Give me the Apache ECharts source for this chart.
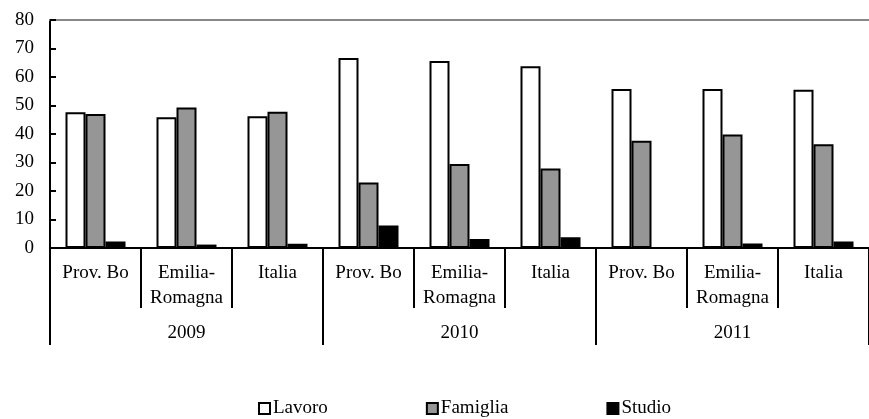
<!DOCTYPE html>
<html>
<head>
<meta charset="utf-8">
<script src="https://cdn.jsdelivr.net/npm/echarts@6/dist/echarts.min.js"></script>
<style>
  html, body { margin: 0; padding: 0; background: #fff; }
  #chart { width: 869px; height: 419px; }
</style>
</head>
<body>
<div id="chart"></div>
<script>
const places = ['Prov. Bo', 'Emilia-\nRomagna', 'Italia',
                'Prov. Bo', 'Emilia-\nRomagna', 'Italia',
                'Prov. Bo', 'Emilia-\nRomagna', 'Italia']
const years = ['2009', '2010', '2011']
const lavoro   = [47.6, 45.9, 46.2, 66.7, 65.6, 63.8, 55.8, 55.8, 55.5]
const famiglia = [47.0, 49.3, 47.8, 23.0, 29.5, 27.9, 37.6, 39.8, 36.4]
const studio   = [2.3, 1.2, 1.5, 7.9, 3.2, 3.8, 0, 1.6, 2.3]

const FONT = '"Liberation Serif", "DejaVu Serif", serif'
const chart = echarts.init(document.getElementById('chart'))

const barStyle = (fill) => ({
  itemStyle: { color: fill, borderColor: '#000', borderWidth: 2 },
  barWidth: 20,
  barGap: '0%',
  animation: false,
})

chart.setOption({
  backgroundColor: '#fff',
  textStyle: { fontFamily: FONT, color: '#000' },
  grid: { left: 50, top: 20, width: 823, height: 228, containLabel: false },
  legend: {
    bottom: -4,
    left: 253,
    itemWidth: 11,
    itemHeight: 11,
    itemGap: 98,
    icon: 'rect',
    textStyle: { fontFamily: FONT, fontSize: 19, color: '#000', padding: [0, 0, 0, -2] },
    data: ['Lavoro', 'Famiglia', 'Studio'],
  },
  xAxis: [
    {
      type: 'category', data: places, position: 'bottom',
      axisLine: { lineStyle: { color: '#000', width: 2 } },
      axisTick: { show: true, length: 60, interval: 0, lineStyle: { color: '#000', width: 2 } },
      axisLabel: { interval: 0, margin: 13, fontFamily: FONT, fontSize: 19, lineHeight: 25, color: '#000' },
    },
    {
      type: 'category', data: years, position: 'bottom', offset: 60,
      axisLine: { show: false },
      axisTick: { show: true, length: 37, lineStyle: { color: '#000', width: 2 } },
      axisLabel: { margin: 16, fontFamily: FONT, fontSize: 19, color: '#000' },
    },
    {
      type: 'category', data: years, position: 'top',
      axisLine: { lineStyle: { color: '#888', width: 2 } },
      axisTick: { show: false }, axisLabel: { show: false },
    },
  ],
  yAxis: {
    type: 'value', min: 0, max: 80, interval: 10,
    axisLine: { show: true, lineStyle: { color: '#000', width: 2 } },
    axisTick: { show: true, inside: true, length: 6, lineStyle: { color: '#000', width: 2 } },
    axisLabel: { margin: 16, fontFamily: FONT, fontSize: 19, color: '#000' },
    splitLine: { show: false },
  },
  series: [
    { name: 'Lavoro', type: 'bar', data: lavoro, ...barStyle('#fff') },
    { name: 'Famiglia', type: 'bar', data: famiglia, ...barStyle('#969696') },
    { name: 'Studio', type: 'bar', data: studio, ...barStyle('#000') },
  ],
})
</script>
</body>
</html>
